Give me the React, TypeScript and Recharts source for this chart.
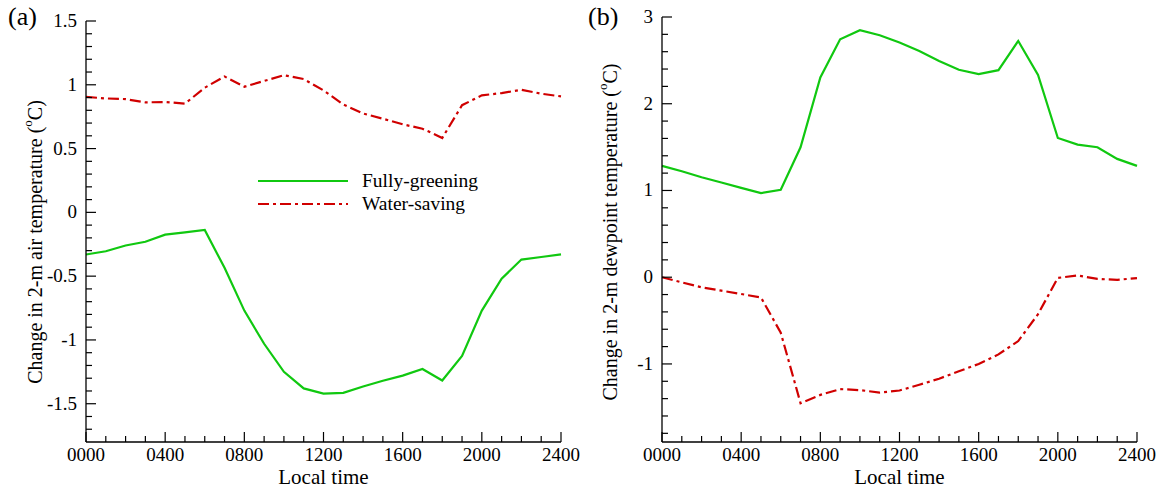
import React from 'react';
import { LineChart, Line, XAxis, YAxis, Legend } from 'recharts';

// hourly values, 0000 .. 2400 local time
const HOURS = [0, 1, 2, 3, 4, 5, 6, 7, 8, 9, 10, 11, 12, 13, 14, 15, 16, 17, 18, 19, 20, 21, 22, 23, 24];

// (a) change in 2-m air temperature
const GREEN_AIR = [-0.33, -0.305, -0.26, -0.23, -0.175, -0.157, -0.138, -0.435, -0.77, -1.03, -1.25, -1.38, -1.42, -1.415, -1.365, -1.32, -1.28, -1.228, -1.318, -1.125, -0.77, -0.52, -0.37, -0.35, -0.33];
const WATER_AIR = [0.905, 0.893, 0.888, 0.862, 0.865, 0.852, 0.977, 1.065, 0.985, 1.03, 1.075, 1.045, 0.956, 0.846, 0.775, 0.734, 0.69, 0.656, 0.583, 0.84, 0.917, 0.935, 0.961, 0.93, 0.909];

// (b) change in 2-m dewpoint temperature
const GREEN_DEW = [1.284, 1.222, 1.153, 1.092, 1.03, 0.969, 1.008, 1.498, 2.303, 2.743, 2.847, 2.789, 2.705, 2.609, 2.494, 2.391, 2.341, 2.387, 2.724, 2.333, 1.605, 1.529, 1.498, 1.364, 1.284];
const WATER_DEW = [0, -0.06, -0.116, -0.155, -0.194, -0.233, -0.64, -1.453, -1.357, -1.29, -1.302, -1.33, -1.306, -1.24, -1.17, -1.085, -1.0, -0.89, -0.736, -0.426, -0.008, 0.02, -0.02, -0.03, -0.01];

const AIR_MINOR = Array.from({ length: 33 }, (_, i) => +(-1.7 + i * 0.1).toFixed(1));
const AIR_LABELS = [-1.5, -1, -0.5, 0, 0.5, 1, 1.5];
const DEW_MINOR = Array.from({ length: 25 }, (_, i) => +(-1.8 + i * 0.2).toFixed(1));
const DEW_LABELS = [-1, 0, 1, 2, 3];

const SERIES_NAMES = ['Fully-greening', 'Water-saving'];

const GREEN = '#10c810';
const RED = '#d00000';
const DASH = '11 4 3 4';
const FONT = 'Liberation Serif, Times New Roman, serif';

const airData = HOURS.map((h, i) => ({ h, green: GREEN_AIR[i], water: WATER_AIR[i] }));
const dewData = HOURS.map((h, i) => ({ h, green: GREEN_DEW[i], water: WATER_DEW[i] }));

const XTick = (props: any) => {
  const { x, y, payload } = props;
  const major = payload.value % 4 === 0;
  return (
    <g>
      <line x1={x} x2={x} y1={y} y2={y - (major ? 10 : 6)} stroke="#000" strokeWidth={1.2} />
      {major && (
        <text x={x} y={y + 19} textAnchor="middle" fontSize={19} fontFamily={FONT} fill="#000">
          {String(payload.value * 100).padStart(4, '0')}
        </text>
      )}
    </g>
  );
};

const makeYTick = (labels: number[]) => (props: any) => {
  const { x, y, payload } = props;
  const major = labels.some(l => Math.abs(l - payload.value) < 1e-6);
  return (
    <g>
      <line x1={x} x2={x + (major ? 10 : 6)} y1={y} y2={y} stroke="#000" strokeWidth={1.2} />
      {major && (
        <text x={x - 9} y={y + 6} textAnchor="end" fontSize={19} fontFamily={FONT} fill="#000">
          {String(payload.value)}
        </text>
      )}
    </g>
  );
};

const YLabel = ({ cx, cy, what }: any) => (
  <text
    x={cx}
    y={cy}
    transform={`rotate(-90 ${cx} ${cy})`}
    textAnchor="middle"
    dominantBaseline="central"
    fontSize={20}
    fontFamily={FONT}
    fill="#000"
  >
    {`Change in 2-m ${what} temperature (`}
    <tspan baselineShift="super" fontSize={13}>o</tspan>
    <tspan>C)</tspan>
  </text>
);

const LegendBox = () => (
  <svg width={240} height={50}>
    <line x1={3} x2={93} y1={13} y2={13} stroke={GREEN} strokeWidth={2.2} />
    <line x1={3} x2={93} y1={36} y2={36} stroke={RED} strokeWidth={2.2} strokeDasharray={DASH} />
    <text x={107} y={19} fontSize={19.5} fontFamily={FONT} fill="#000">{SERIES_NAMES[0]}</text>
    <text x={107} y={42} fontSize={19.5} fontFamily={FONT} fill="#000">{SERIES_NAMES[1]}</text>
  </svg>
);

interface PanelProps {
  data: any[];
  domain: [number, number];
  ticks: number[];
  labels: number[];
  top: number;
  right: number;
  axisWidth: number;
  what: string;
  labelX: number;
  labelY: number;
  tag: string;
  legend?: boolean;
}

const Panel: React.FC<PanelProps> = ({ data, domain, ticks, labels, top, right, axisWidth, what, labelX, labelY, tag, legend }) => (
  <div style={{ position: 'relative', width: 580, height: 488 }}>
    <LineChart width={580} height={488} data={data} margin={{ top, right, left: 0, bottom: 0 }}>
      <XAxis
        dataKey="h"
        type="number"
        domain={[0, 24]}
        ticks={HOURS}
        interval={0}
        tick={<XTick />}
        tickLine={false}
        tickSize={0}
        tickMargin={0}
        height={46}
        axisLine={{ stroke: '#000', strokeWidth: 1.3 }}
        label={{ value: 'Local time', position: 'insideBottom', offset: 4, fontSize: 21, fontFamily: FONT, fill: '#000' }}
      />
      <XAxis xAxisId="top" orientation="top" type="number" domain={[0, 24]} tick={false} tickLine={false} height={0} axisLine={{ stroke: '#000', strokeWidth: 1.3 }} />
      <YAxis
        type="number"
        domain={domain}
        ticks={ticks}
        interval={0}
        allowDataOverflow
        tick={makeYTick(labels)}
        tickLine={false}
        tickSize={0}
        tickMargin={0}
        width={axisWidth}
        axisLine={{ stroke: '#000', strokeWidth: 1.3 }}
        label={<YLabel what={what} cx={labelX} cy={labelY} />}
      />
      <YAxis yAxisId="right" orientation="right" type="number" domain={domain} tick={false} tickLine={false} width={0} axisLine={{ stroke: '#000', strokeWidth: 1.3 }} />
      {legend && (
        <Legend
          layout="horizontal"
          verticalAlign="middle"
          align="center"
          content={<LegendBox />}
          wrapperStyle={{ position: 'absolute', left: 255, top: 168, width: 240, height: 50 }}
        />
      )}
      <Line type="linear" dataKey="green" name={SERIES_NAMES[0]} stroke={GREEN} strokeWidth={2.2} dot={false} isAnimationActive={false} />
      <Line type="linear" dataKey="water" name={SERIES_NAMES[1]} stroke={RED} strokeWidth={2.2} strokeDasharray={DASH} dot={false} isAnimationActive={false} />
    </LineChart>
    <div style={{ position: 'absolute', left: 8, top: 2, fontSize: 26, fontFamily: FONT, color: '#000' }}>{tag}</div>
  </div>
);

export default function App() {
  return (
    <div style={{ position: 'absolute', left: 0, top: 0, width: 1160, height: 488, background: '#fff', display: 'flex' }}>
      <Panel data={airData} domain={[-1.8, 1.5]} ticks={AIR_MINOR} labels={AIR_LABELS} top={21} right={19} axisWidth={86}
        what="air" labelX={35} labelY={242} tag="(a)" legend />
      <Panel data={dewData} domain={[-1.9, 3]} ticks={DEW_MINOR} labels={DEW_LABELS} top={17} right={23} axisWidth={82}
        what="dewpoint" labelX={30} labelY={232} tag="(b)" />
    </div>
  );
}
